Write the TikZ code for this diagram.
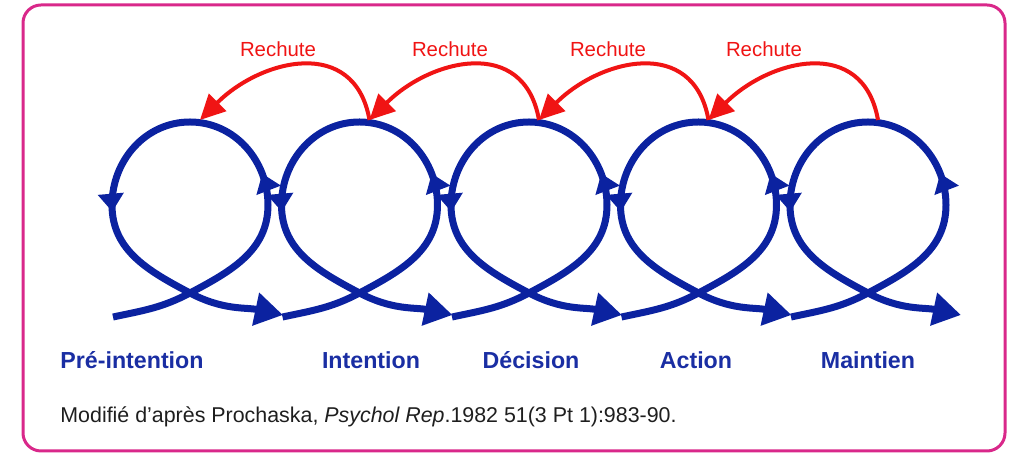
\documentclass[tikz,border=0pt]{standalone}
\usepackage{fontspec}
\setmainfont{Liberation Sans}
\usepackage{xcolor}
\definecolor{frameRose}  {HTML}{D9288A}
\definecolor{cycleBlue}  {HTML}{0B22A0}
\definecolor{stageBlue}  {HTML}{1A2EA3}
\definecolor{relapseRed} {HTML}{F01414}
\definecolor{noteGrey}   {HTML}{1E1E1E}
\usetikzlibrary{arrows.meta, decorations.markings}
\tikzset{
    cycleline/.style={line width=3.5pt, cycleBlue, line join=round,
                      -{Triangle[length=14pt, width=16pt]},
                      postaction={decorate},
                      decoration={markings,
                        mark=at position 0.35 with {\arrow{Triangle[length=9pt, width=12.5pt]}},
                        mark=at position 0.685 with {\arrow{Triangle[length=9pt, width=12.5pt]}}}},
    relapse/.style={line width=2pt, relapseRed, -{Triangle[length=12.5pt, width=12pt]}},
    relapselabel/.style={text=relapseRed, font=\fontsize{10.2}{12}\selectfont, anchor=base},
    stagelabel/.style={text=stageBlue, font=\fontsize{11.6}{14}\selectfont\bfseries, anchor=base},
    frame/.style={draw=frameRose, line width=1.5pt, rounded corners=9pt},
}

\begin{document}
\begin{tikzpicture}[x=0.5pt, y=0.5pt]
    \useasboundingbox (0,0) rectangle (1013,454);
    \draw[frame] (23,3) rectangle (1005,449);
    \foreach \i/\cx in {1/190, 2/359.5, 3/529, 4/698.5, 5/868} {
        \coordinate (x\i) at (\cx,161);
        \coordinate (t\i) at (\cx+10,334);
        \draw[cycleline, shift={(x\i)}] (-77,-24) to[out=12,in=208] (0,0)
            to[out=28,in=270] (78,88) to[out=90,in=0] (0,171)
            to[out=180,in=90] (-78,88) to[out=270,in=152] (0,0)
            to[out=-28,in=168] (93,-22);
    }
    \foreach \j/\i in {2/1, 3/2, 4/3, 5/4}
        \draw[relapse] (t\j) to[out=100, in=45, looseness=1.3] (t\i);
    \foreach \i/\lx in {1/278, 2/450, 3/608, 4/764}
        \node[relapselabel] (r\i) at (\lx,397) {Rechute};
    \node[stagelabel] (pre) at (132,85) {Pré-intention};
    \node[stagelabel] (int) at (371,85) {Intention};
    \node[stagelabel] (dec) at (531,85) {Décision};
    \node[stagelabel] (act) at (696,85) {Action};
    \node[stagelabel] (mai) at (868,85) {Maintien};
    \node[anchor=base west, inner sep=0pt, text=noteGrey,
          font=\fontsize{10.7}{13}\selectfont] (src) at (60,31)
        {Modifié d’après Prochaska, \textit{Psychol Rep}.1982 51(3 Pt 1):983-90.};
\end{tikzpicture}
\end{document}
